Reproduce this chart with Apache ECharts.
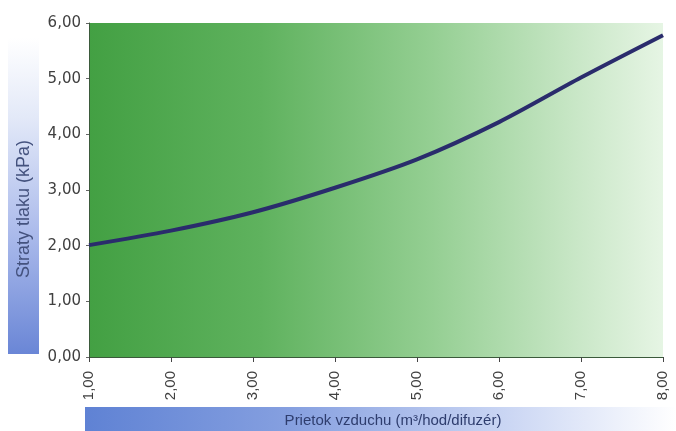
<!DOCTYPE html>
<html>
<head>
<meta charset="utf-8">
<script src="https://cdn.jsdelivr.net/npm/echarts@6/dist/echarts.min.js"></script>
<style>
html,body{margin:0;padding:0;background:#fff;}
#c{width:676px;height:431px;}
</style>
</head>
<body>
<div id="c"></div>
<script>
const xValues = [1, 2, 3, 4, 5, 6, 7, 8];
const pressureLoss = [2.01, 2.27, 2.6, 3.04, 3.55, 4.22, 5.02, 5.78];
const yTitle = 'Straty tlaku (kPa)';
const xTitle = 'Prietok vzduchu (m\u00b3/hod/difuz\u00e9r)';

const fmt = v => v.toFixed(2).replace('.', ',');
const chart = echarts.init(document.getElementById('c'));
chart.setOption({
  animation: false,
  backgroundColor: '#ffffff',
  grid: {
    left: 89, right: 13, top: 23, bottom: 74,
    show: true, borderWidth: 0,
    backgroundColor: {
      type: 'linear', x: 0, y: 0, x2: 1, y2: 0,
      colorStops: [
        { offset: 0, color: '#43a043' },
        { offset: 0.3, color: '#5fb25e' },
        { offset: 0.6, color: '#95cf93' },
        { offset: 0.85, color: '#c9e7c7' },
        { offset: 1, color: '#e6f5e4' }
      ]
    }
  },
  xAxis: {
    type: 'value', min: 1, max: 8, interval: 1,
    splitLine: { show: false },
    axisLine: { show: true, lineStyle: { color: '#3b5a3b', width: 1 } },
    axisTick: { show: true, length: 5, lineStyle: { color: '#444' } },
    axisLabel: {
      rotate: 90, margin: 14, formatter: fmt,
      color: '#404040', fontSize: 15,
      fontFamily: '"Liberation Sans Narrow", "Liberation Sans", Arial, sans-serif'
    }
  },
  yAxis: {
    type: 'value', min: 0, max: 6, interval: 1,
    splitLine: { show: false },
    axisLine: { show: true, lineStyle: { color: '#3b5a3b', width: 1 } },
    axisTick: { show: true, length: 3, lineStyle: { color: '#666' } },
    axisLabel: {
      margin: 8, formatter: fmt,
      color: '#404040', fontSize: 15,
      fontFamily: '"DejaVu Sans", sans-serif'
    }
  },
  series: [{
    type: 'line',
    data: xValues.map((x, i) => [x, pressureLoss[i]]),
    smooth: 0.3,
    symbol: 'none',
    lineStyle: { color: '#2a2c6c', width: 4 }
  }],
  graphic: [
    {
      type: 'rect', z: -1,
      shape: { x: 8, y: 38, width: 31, height: 316 },
      style: {
        fill: {
          type: 'linear', x: 0, y: 0, x2: 0, y2: 1,
          colorStops: [
            { offset: 0, color: '#ffffff' },
            { offset: 0.25, color: '#e3e9f8' },
            { offset: 0.6, color: '#aebdec' },
            { offset: 1, color: '#6a86d6' }
          ]
        }
      }
    },
    {
      type: 'text',
      x: 24, y: 209, rotation: Math.PI / 2,
      style: {
        text: yTitle, fill: '#44527e',
        font: '18px "Liberation Sans Narrow", "Liberation Sans", Arial, sans-serif',
        align: 'center', verticalAlign: 'middle'
      }
    },
    {
      type: 'rect', z: -1,
      shape: { x: 85, y: 407, width: 591, height: 24 },
      style: {
        fill: {
          type: 'linear', x: 0, y: 0, x2: 1, y2: 0,
          colorStops: [
            { offset: 0, color: '#5f82d4' },
            { offset: 0.35, color: '#86a0e0' },
            { offset: 0.7, color: '#c8d4f3' },
            { offset: 1, color: '#ffffff' }
          ]
        }
      }
    },
    {
      type: 'text',
      x: 393, y: 421,
      style: {
        text: xTitle, fill: '#2e3d6e',
        font: '15px "Liberation Sans Narrow", "Liberation Sans", Arial, sans-serif',
        align: 'center', verticalAlign: 'middle'
      }
    }
  ]
});
</script>
</body>
</html>
